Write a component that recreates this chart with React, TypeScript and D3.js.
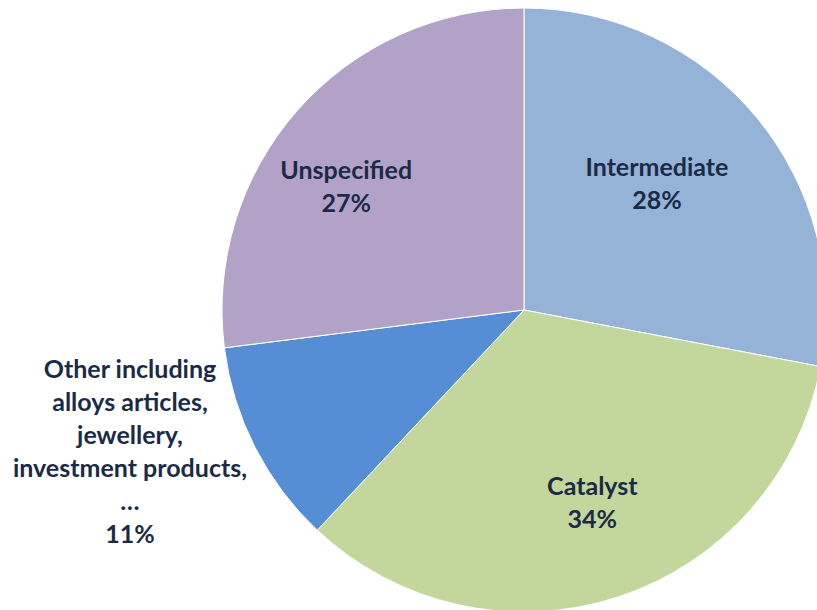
import * as d3 from "d3";
import { useRef, useEffect } from "react";

const categories = ["Intermediate", "Catalyst", "Other including alloys articles, jewellery, investment products, …", "Unspecified"];
const shares = [28, 34, 11, 27];
const colors = ["#95B3D7", "#C3D69B", "#558ED5", "#B3A2C7"];
const labelLines = [
  ["Intermediate", "28%"],
  ["Catalyst", "34%"],
  ["Other including", "alloys articles,", "jewellery,", "investment products,", "…", "11%"],
  ["Unspecified", "27%"],
];
// small label nudges (px) relative to the arc centroid, like Excel's best-fit placement
const labelNudge = [
  [-25, 4],
  [5, -2],
  [0, 0],
  [-24, 12],
];

export default function App() {
  const svgRef = useRef<SVGSVGElement>(null);

  useEffect(() => {
    if (!svgRef.current) return;
    const svg = d3.select(svgRef.current);
    svg.selectAll("*").remove();

    const width = 817;
    const height = 610;
    const cx = 524;
    const cy = 310;
    const radius = 302;

    const data = categories.map((c, i) => ({ name: c, value: shares[i], i }));
    const pie = d3.pie<any>().sort(null).value((d) => d.value);
    const arcs = pie(data);

    const g = svg.append("g").attr("transform", `translate(${cx},${cy})`);

    const arc = d3.arc<any>().innerRadius(0).outerRadius(radius);
    g.selectAll("path")
      .data(arcs)
      .join("path")
      .attr("d", arc)
      .attr("fill", (d) => colors[d.data.i])
      .attr("stroke", "#ffffff")
      .attr("stroke-width", 1);

    const inArc = d3.arc<any>().innerRadius(205).outerRadius(205);
    const lineH = 33;

    arcs.forEach((a) => {
      const lines = labelLines[a.data.i];
      const outside = a.data.value < 15;
      let x: number, y: number;
      if (outside) {
        // outside label, to the left of the pie
        x = -394;
        y = 142;
      } else {
        [x, y] = inArc.centroid(a);
        x += labelNudge[a.data.i][0];
        y += labelNudge[a.data.i][1];
      }
      const t = g
        .append("text")
        .attr("text-anchor", "middle")
        .attr("font-family", "Lato, 'Open Sans', sans-serif")
        .attr("font-weight", 700)
        .attr("font-size", 25)
        .attr("fill", "#1B2B45");
      const y0 = y - ((lines.length - 1) * lineH) / 2;
      lines.forEach((l, k) => {
        t.append("tspan")
          .attr("x", x)
          .attr("y", y0 + k * lineH)
          .attr("dy", "0.35em")
          .text(l);
      });
    });
    svg.attr("width", width).attr("height", height);
  }, []);

  return (
    <svg
      ref={svgRef}
      width={817}
      height={610}
      style={{ position: "absolute", left: 0, top: 0, background: "#fff" }}
    />
  );
}
